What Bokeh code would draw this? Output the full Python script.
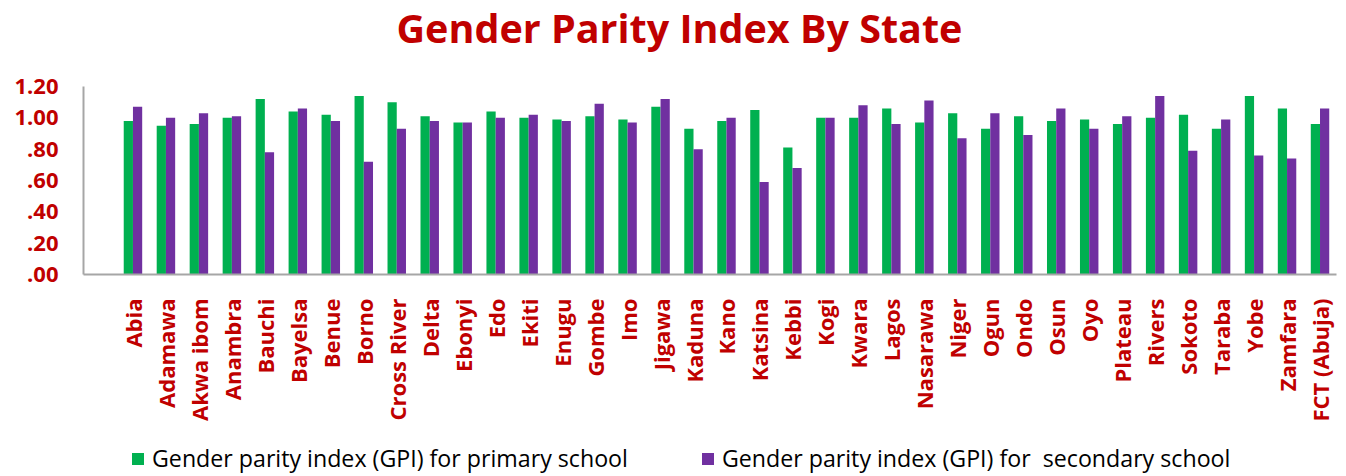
import math
from bokeh.plotting import figure
from bokeh.layouts import column
from bokeh.models import (FactorRange, Range1d, Legend, LegendItem, FixedTicker,
                          ColumnDataSource, Label)
from bokeh.transform import dodge
from bokeh.embed import file_html
from bokeh.resources import INLINE

title_text = "Gender Parity Index By State"

states = ["Abia", "Adamawa", "Akwa ibom", "Anambra", "Bauchi", "Bayelsa", "Benue",
          "Borno", "Cross River", "Delta", "Ebonyi", "Edo", "Ekiti", "Enugu", "Gombe",
          "Imo", "Jigawa", "Kaduna", "Kano", "Katsina", "Kebbi", "Kogi", "Kwara",
          "Lagos", "Nasarawa", "Niger", "Ogun", "Ondo", "Osun", "Oyo", "Plateau",
          "Rivers", "Sokoto", "Taraba", "Yobe", "Zamfara", "FCT (Abuja)"]

gpi_primary = [0.98, 0.95, 0.96, 1.00, 1.12, 1.04, 1.02,
               1.14, 1.10, 1.01, 0.97, 1.04, 1.00, 0.99, 1.01,
               0.99, 1.07, 0.93, 0.98, 1.05, 0.81, 1.00, 1.00,
               1.06, 0.97, 1.03, 0.93, 1.01, 0.98, 0.99, 0.96,
               1.00, 1.02, 0.93, 1.14, 1.06, 0.96]

gpi_secondary = [1.07, 1.00, 1.03, 1.01, 0.78, 1.06, 0.98,
                 0.72, 0.93, 0.98, 0.97, 1.00, 1.02, 0.98, 1.09,
                 0.97, 1.12, 0.80, 1.00, 0.59, 0.68, 1.00, 1.08,
                 0.96, 1.11, 0.87, 1.03, 0.89, 1.06, 0.93, 1.01,
                 1.14, 0.79, 0.99, 0.76, 0.74, 1.06]

y_ticks = [0.0, 0.2, 0.4, 0.6, 0.8, 1.0, 1.2]
y_tick_labels = [".00", ".20", ".40", ".60", ".80", "1.00", "1.20"]

series_names = ["Gender parity index (GPI) for primary school",
                "Gender parity index (GPI) for  secondary school"]
series_colors = ["#00B050", "#7030A0"]

RED = "#C00000"
FONT = "Open Sans"
W = 1337


def bare(height):
    f = figure(width=W, height=height, output_backend="svg", toolbar_location=None,
               x_axis_type=None, y_axis_type=None, min_border=0,
               x_range=Range1d(0, 1), y_range=Range1d(0, 1))
    f.outline_line_color = None
    return f


source = ColumnDataSource(dict(state=states, primary=gpi_primary, secondary=gpi_secondary))

# ---- title strip ----
head = bare(54)
head.add_layout(Label(x=313, y=27, x_units="screen", y_units="screen",
                      text=title_text, text_font=FONT, text_font_style="bold",
                      text_font_size="39.5px", text_color=RED,
                      text_align="left", text_baseline="middle"))

# ---- main chart ----
factors = [" "] + states
p = figure(x_range=FactorRange(factors=factors, range_padding=0),
           y_range=Range1d(0, 1.2),
           width=W, height=370,
           output_backend="svg", toolbar_location=None,
           min_border_left=83, min_border_right=1,
           min_border_top=32, min_border_bottom=150)

p.vbar(x=dodge("state", -0.14, range=p.x_range), top="primary", width=0.28,
       source=source, fill_color=series_colors[0], line_color=None)
p.vbar(x=dodge("state", 0.14, range=p.x_range), top="secondary", width=0.28,
       source=source, fill_color=series_colors[1], line_color=None)

p.outline_line_color = None
p.xgrid.grid_line_color = None
p.ygrid.grid_line_color = None

p.yaxis.ticker = FixedTicker(ticks=y_ticks)
p.yaxis.major_label_overrides = dict(zip(y_ticks, y_tick_labels))
p.yaxis.major_tick_line_color = None
p.yaxis.minor_tick_line_color = None
p.yaxis.axis_line_color = "#A6A6A6"
p.yaxis.axis_line_width = 2
p.yaxis.major_label_text_font = FONT
p.yaxis.major_label_text_font_style = "bold"
p.yaxis.major_label_text_font_size = "22px"
p.yaxis.major_label_text_color = RED
p.yaxis.major_label_standoff = 19

p.xaxis.major_label_orientation = math.pi / 2
p.xaxis.major_tick_line_color = None
p.xaxis.minor_tick_line_color = None
p.xaxis.axis_line_color = "#A6A6A6"
p.xaxis.axis_line_width = 2
p.xaxis.major_label_text_font = FONT
p.xaxis.major_label_text_font_style = "bold"
p.xaxis.major_label_text_font_size = "22px"
p.xaxis.major_label_text_color = RED
p.xaxis.major_label_standoff = 18

# ---- legend strip (swatch renderers fall outside this strip's numeric range) ----
foot = bare(50)
g1 = foot.vbar(x="state", top="primary", width=0.1, source=source,
               fill_color=series_colors[0], line_color=None)
g2 = foot.vbar(x="state", top="secondary", width=0.1, source=source,
               fill_color=series_colors[1], line_color=None)
legend = Legend(items=[LegendItem(label=series_names[0], renderers=[g1], index=0),
                       LegendItem(label=series_names[1], renderers=[g2], index=0)],
                location=(47, 0), orientation="horizontal",
                border_line_color=None, background_fill_alpha=0,
                padding=0, margin=0, spacing=72, glyph_width=15, glyph_height=15,
                label_standoff=7, label_text_font=FONT,
                label_text_font_size="23.2px", label_text_color="#000000")
foot.add_layout(legend, "center")

layout = column(head, p, foot, spacing=0)
open("out.html", "w").write(file_html(layout, INLINE))
